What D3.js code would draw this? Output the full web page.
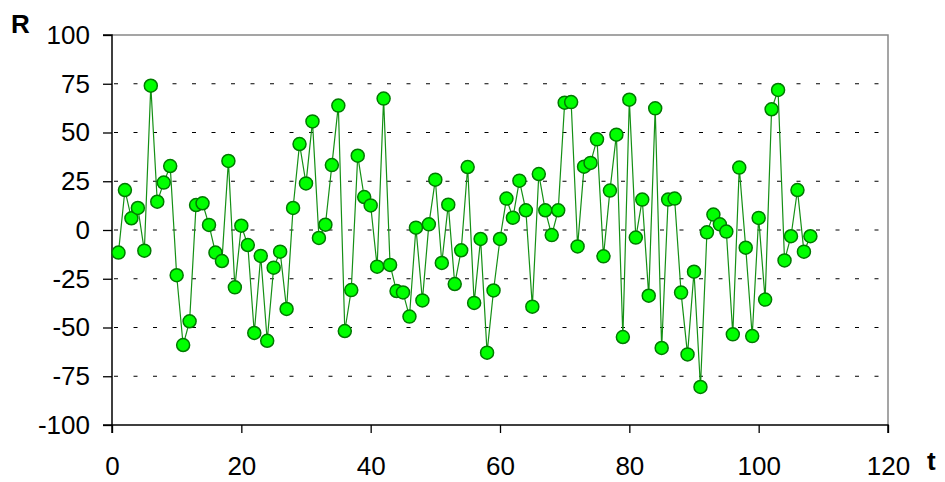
<!DOCTYPE html>
<html>
<head>
<meta charset="utf-8">
<script src="https://cdn.jsdelivr.net/npm/d3@7"></script>
<style>
  body { margin: 0; background: #fff; }
  svg { display: block; font-family: "Liberation Sans", Arial, sans-serif; }
</style>
</head>
<body>
<svg id="chart" width="945" height="482"></svg>
<script>
// series R(t), t = 1..108
var tValues = d3.range(1, 109);
var rValues = [
  -11.6, 20.5, 6, 11.3, -10.6, 74, 14.5, 24.3, 32.8, -23.2,
  -59, -46.8, 12.8, 13.7, 2.6, -11.6, -15.9, 35.4, -29.4, 2.2,
  -7.7, -52.8, -13.3, -56.8, -19.3, -11.1, -40.5, 11.3, 44.1, 23.9,
  55.7, -4.1, 2.7, 33.3, 63.8, -51.8, -30.8, 38.1, 16.9, 12.6,
  -18.8, 67.4, -17.9, -31.3, -32, -44.4, 1.2, -36.1, 2.9, 25.8,
  -16.9, 13, -27.7, -10.4, 32.3, -37.4, -4.6, -62.9, -31, -4.6,
  16.1, 6.3, 25.3, 10.1, -39.3, 28.7, 10.1, -2.6, 10.1, 65.3,
  65.6, -8.4, 32.5, 34.4, 46.5, -13.5, 20.2, 48.9, -54.9, 66.8,
  -3.9, 15.6, -33.7, 62.4, -60.5, 15.6, 16.1, -32.1, -63.8, -21.4,
  -80.5, -1.2, 7.9, 2.9, -0.8, -53.5, 32, -9.1, -54.4, 6.2,
  -35.7, 61.9, 71.8, -15.6, -3.2, 20.5, -11.1, -3.2
];
var xTicks = [0, 20, 40, 60, 80, 100, 120];
var yTicks = [-100, -75, -50, -25, 0, 25, 50, 75, 100];

(function() {
  var svg = d3.select('#chart');
  var pLeft = 112, pRight = 888, pTop = 35, pBottom = 425;

  var x = d3.scaleLinear().domain([0, 120]).range([pLeft, pRight]);
  var y = d3.scaleLinear().domain([-100, 100]).range([pBottom, pTop]);

  // grey frame top and right
  svg.append('path')
    .attr('d', 'M' + pLeft + ',' + pTop + 'H' + pRight + 'V' + pBottom)
    .attr('fill', 'none').attr('stroke', '#888').attr('stroke-width', 1.5);

  // dashed gridlines
  svg.append('g').selectAll('line').data(yTicks.filter(function(d) { return d > -100 && d < 100; }))
    .enter().append('line')
    .attr('x1', pLeft + 2).attr('x2', pRight)
    .attr('y1', function(d) { return y(d); }).attr('y2', function(d) { return y(d); })
    .attr('stroke', '#000').attr('stroke-width', 1)
    .attr('stroke-dasharray', '4,15.5');

  // axes, plain hyphen for negatives like the original
  var plain = function(d) { return String(d); };
  var yAxis = d3.axisLeft(y).tickValues(yTicks).tickFormat(plain).tickSize(9).tickPadding(13);
  var xAxis = d3.axisBottom(x).tickValues(xTicks).tickFormat(plain).tickSize(8).tickPadding(24);

  var gy = svg.append('g').attr('transform', 'translate(' + pLeft + ',0)').call(yAxis);
  var gx = svg.append('g').attr('transform', 'translate(0,' + pBottom + ')').call(xAxis);

  [gx, gy].forEach(function(g) {
    g.select('.domain').attr('stroke', '#000').attr('stroke-width', 1.5);
    g.selectAll('.tick line').attr('stroke', '#000').attr('stroke-width', 1.3);
    g.selectAll('.tick text').attr('fill', '#000').style('font-size', '26px')
      .style('font-family', '"Liberation Sans", Arial, sans-serif');
  });
  gy.select('.domain').attr('d', 'M-9,' + pTop + 'H0V' + pBottom + 'H-9');
  gx.select('.domain').attr('d', 'M' + pLeft + ',8V0H' + pRight + 'V8');

  // series line
  var line = d3.line()
    .x(function(d, i) { return x(tValues[i]); })
    .y(function(d) { return y(d); });

  svg.append('path').datum(rValues)
    .attr('d', line)
    .attr('fill', 'none')
    .attr('stroke', '#149014')
    .attr('stroke-width', 1.2);

  // markers
  svg.append('g').selectAll('circle').data(rValues).enter().append('circle')
    .attr('cx', function(d, i) { return x(tValues[i]); })
    .attr('cy', function(d) { return y(d); })
    .attr('r', 6.5)
    .attr('fill', '#00ff00')
    .attr('stroke', '#007a00')
    .attr('stroke-width', 1.5);

  // axis titles
  svg.append('text').attr('x', 11).attr('y', 33)
    .style('font-size', '26px').style('font-weight', 'bold').text('R');
  svg.append('text').attr('x', 927).attr('y', 470)
    .style('font-size', '26px').style('font-weight', 'bold').text('t');
})();
</script>
</body>
</html>
